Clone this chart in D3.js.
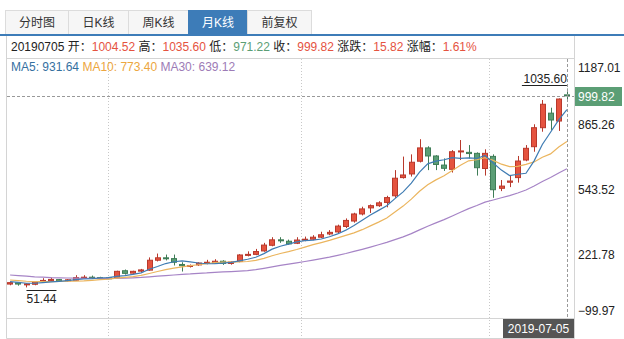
<!DOCTYPE html>
<html>
<head>
<meta charset="utf-8">
<script src="https://cdn.jsdelivr.net/npm/d3@7"></script>
<style>
  body { margin: 0; background: #fff; }
  text { font-family: "Liberation Sans", "Noto Sans CJK SC", sans-serif; font-size: 12px; }
</style>
</head>
<body>
<svg width="624" height="339"></svg>
<script>
// monthly candles, 2013-11 .. 2019-07 (前复权)
const months = d3.timeMonth.range(new Date(2013, 10, 1), new Date(2019, 7, 1));

const opens = [68,74,67,67,80,85,90,84,87,100,102,100,99,100,134,122,132,137,186,198,
  194,165,158,163,172,172,181,170,180,211,215,232,260,287,280,270,286,290,300,316,
  326,353,380,415,445,456,472,505,595,613,676,742,702,657,636,723,720,715,640,700,
  542,572,595,682,748,842,914,875,1004.52];
const highs = [80,77,73,80,97,100,93,92,112,112,110,104,103,134,140,134,143,200,219,214,
  214,176,165,176,188,191,186,180,216,230,242,272,300,300,288,300,303,310,327,335,
  362,393,421,451,462,478,505,632,699,710,785,750,706,690,731,781,756,720,735,710,
  583,608,702,756,859,979,941,987,1035.60];
const lows = [62,60,51.44,62,77,82,80,81,85,96,95,94,92,98,115,119,127,134,180,185,
  160,130,150,158,166,168,163,164,176,205,211,228,255,272,262,266,280,285,296,310,
  320,345,372,408,420,450,448,495,590,600,670,632,632,628,620,682,690,605,605,495,
  528,548,570,676,723,822,831,826,971.22];
const closes = [75,68,69,78,86,91,83,89,100,102,100,99,97,131,121,131,138,186,198,195,
  176,159,160,172,176,181,170,177,212,215,229,261,287,285,267,286,290,300,312,324,
  355,383,415,440,456,470,496,592,608,671,742,702,660,641,723,727,714,644,715,535,
  553,578,677,740,842,958,880,984,999.82];

const ma5 = [80,76,72,72,75.2,78.4,81.4,85.4,89.8,93.0,94.8,98.0,99.6,105.8,109.6,115.8,123.6,141.4,154.8,169.6,
  178.6,182.8,177.6,172.4,168.6,169.6,171.8,175.2,183.2,191.0,200.6,218.8,240.8,255.4,265.8,277.2,283.0,285.6,291.0,302.4,
  316.2,334.8,357.8,383.4,409.8,432.8,455.4,490.8,524.4,567.4,621.8,663.0,676.6,683.2,693.6,690.6,693.0,689.8,704.6,667.0,
  632.2,605.0,611.6,616.6,678.0,759.0,819.4,880.8,931.64];
const ma10 = [88,85,82,80,80,80,81,82,83,84.1,86.6,89.7,92.5,97.8,101.3,105.3,110.8,120.5,130.3,139.6,
  147.2,153.2,159.5,163.6,169.1,174.1,177.3,176.4,177.8,179.8,185.1,195.3,208.0,219.3,228.4,238.9,250.9,263.2,273.2,284.1,
  296.7,308.9,321.7,337.2,356.1,374.5,395.1,424.3,453.9,488.6,527.3,559.2,583.7,603.8,630.5,656.2,678.0,683.2,693.9,680.3,
  661.4,649.0,650.7,660.6,672.5,695.6,712.2,746.2,773.40];
const ma30 = [113,110,107,104,102,100,99,98,97,96,96,96,96,96,97,99,101,104,107,110,
  113,116,118,121,123,126,128,130,132,134.5,139.6,146.1,153.3,160.2,166.3,172.8,179.7,186.7,193.8,201.2,
  209.7,219.1,229.7,240.0,251.2,262.5,274.4,288.0,301.6,317.5,336.4,354.5,371.1,386.8,405.0,423.2,441.3,456.9,473.7,484.3,
  495.1,505.7,518.7,533.9,553.0,575.4,595.1,617.9,639.12];

const yTicks = [1187.01, 865.26, 543.52, 221.78, -99.97];
const tabs = ['分时图', '日K线', '周K线', '月K线', '前复权'];
const activeTab = '月K线';
const gridIdx = [12, 35.5, 58.5];
const hoverDate = '2019-07-05';

const red = '#e5533f', redDark = '#b8392c';
const green = '#5b9e75', greenDark = '#3f7d57';
const blue = '#3d7cb8';
const maColors = {ma5: '#3f7cb3', ma10: '#ebb55e', ma30: '#a684c6'};
const maText = {MA5: '#35709f', MA10: '#eca640', MA30: '#9d7bb6'};

const svg = d3.select('svg');
const pLeft = 6, pRight = 574, pTop = 58, pBottom = 318, dateBottom = 338;

const data = months.map((m, i) => ({
  i, date: m, o: opens[i], h: highs[i], l: lows[i], c: closes[i],
  ma5: ma5[i], ma10: ma10[i], ma30: ma30[i]
}));

const x = d3.scaleBand().domain(d3.range(data.length))
  .range([6, 571]).paddingInner(0.32).paddingOuter(0.16);
const xi = d3.scaleLinear().domain([-0.5, data.length - 0.5]).range([6, 571]);
const cx = i => x(i) + x.bandwidth() / 2;
const y = d3.scaleLinear().domain([-99.97, 1187.01]).range([pBottom, pTop]);

// tabs
const tabX = d3.scaleOrdinal().domain(tabs).range([5, 68, 128, 188, 247]);
const tabW = d3.scaleOrdinal().domain(tabs).range([63, 60, 60, 59, 64]);
const tabG = svg.append('g');
tabG.selectAll('rect').data(tabs).enter().append('rect')
  .attr('x', d => tabX(d) + 0.5).attr('y', 10.5)
  .attr('width', d => tabW(d)).attr('height', 24)
  .attr('fill', d => d === activeTab ? blue : '#f6f6f6')
  .attr('stroke', d => d === activeTab ? blue : '#dcdcdc');
tabG.selectAll('text').data(tabs).enter().append('text')
  .attr('x', d => tabX(d) + tabW(d) / 2 + 0.5).attr('y', 23)
  .attr('text-anchor', 'middle').attr('dominant-baseline', 'central')
  .attr('fill', d => d === activeTab ? '#fff' : '#333')
  .text(d => d);
svg.append('rect').attr('x', 0).attr('y', 34).attr('width', 624).attr('height', 2).attr('fill', blue);

// frame
const frame = svg.append('g').attr('stroke', '#d4d4d4').attr('fill', 'none');
frame.append('path').attr('d', `M${pLeft + 0.5},36V${dateBottom + 0.5}H${pRight + 0.5}V36`);
frame.append('path').attr('d', `M${pLeft},${pTop + 0.5}H${pRight}`);
frame.append('path').attr('d', `M${pLeft},${pBottom + 0.5}H${pRight}`);

// grid
svg.append('g').selectAll('line').data(gridIdx).enter().append('line')
  .attr('x1', d => Math.round(xi(d)) + 0.5).attr('x2', d => Math.round(xi(d)) + 0.5)
  .attr('y1', pTop + 1).attr('y2', dateBottom)
  .attr('stroke', '#c8c8c8').attr('stroke-dasharray', '1,2');

// info row
const last = data[data.length - 1];
const prev = data[data.length - 2];
const f2 = d3.format('.2f');
const chg = last.c - prev.c;
const col = v => v >= prev.c ? red : green;
const infoParts = [
  [hoverDate.replace(/-/g, '') + ' 开：', '#222'], [f2(last.o), col(last.o)],
  [' 高：', '#222'], [f2(last.h), col(last.h)],
  [' 低：', '#222'], [f2(last.l), col(last.l)],
  [' 收：', '#222'], [f2(last.c), col(last.c)],
  [' 涨跌：', '#222'], [f2(chg), chg >= 0 ? red : green],
  [' 涨幅：', '#222'], [f2(chg / prev.c * 100) + '%', chg >= 0 ? red : green]
];
svg.append('text').attr('x', 11).attr('y', 47).attr('dominant-baseline', 'central')
  .attr('xml:space', 'preserve')
  .selectAll('tspan').data(infoParts).enter().append('tspan')
  .attr('fill', d => d[1]).text(d => d[0]);

const maParts = [['MA5', last.ma5], ['MA10', last.ma10], ['MA30', last.ma30]];
svg.append('text').attr('x', 11).attr('y', 67).attr('dominant-baseline', 'central')
  .attr('xml:space', 'preserve')
  .selectAll('tspan').data(maParts).enter().append('tspan')
  .attr('fill', d => maText[d[0]]).text((d, i) => (i ? ' ' : '') + d[0] + ': ' + f2(d[1]));

// candles
const plot = svg.append('g');
const up = d => d.c >= d.o;
const candle = plot.selectAll('g.candle').data(data).enter().append('g').attr('class', 'candle');
candle.append('line')
  .attr('x1', d => Math.round(cx(d.i)) + 0.5).attr('x2', d => Math.round(cx(d.i)) + 0.5)
  .attr('y1', d => y(d.h)).attr('y2', d => y(d.l))
  .attr('stroke', d => up(d) ? redDark : greenDark);
candle.append('rect')
  .attr('x', d => Math.round(cx(d.i) - x.bandwidth() / 2) + 0.5)
  .attr('width', Math.round(x.bandwidth()) - 1)
  .attr('y', d => y(Math.max(d.o, d.c)))
  .attr('height', d => Math.max(1, Math.abs(y(d.o) - y(d.c))))
  .attr('fill', d => up(d) ? red : green)
  .attr('stroke', d => up(d) ? redDark : greenDark);

// moving averages
['ma30', 'ma10', 'ma5'].forEach(k => {
  plot.append('path').datum(data)
    .attr('fill', 'none')
    .attr('stroke', maColors[k])
    .attr('stroke-width', 1.2)
    .attr('d', d3.line().x(d => cx(d.i)).y(d => y(d[k])));
});

// high / low markers
const hi = data[d3.maxIndex(data, d => d.h)];
const lo = data[d3.minIndex(data, d => d.l)];
const hx = cx(hi.i), hy = Math.round(y(hi.h) - 3.5) + 0.5;
svg.append('line').attr('x1', hx - 45).attr('x2', hx).attr('y1', hy).attr('y2', hy).attr('stroke', '#222');
svg.append('text').attr('x', hx).attr('y', hy - 3).attr('text-anchor', 'end').attr('fill', '#222').text(f2(hi.h));
const lx = cx(lo.i), ly = Math.round(y(lo.l) + 2.5) + 0.5;
svg.append('line').attr('x1', lx).attr('x2', lx + 30).attr('y1', ly).attr('y2', ly).attr('stroke', '#222');
svg.append('text').attr('x', lx).attr('y', ly + 12).attr('fill', '#222').text(f2(lo.l));

// crosshair on last candle
const chX = Math.round(cx(last.i)) + 0.5, chY = Math.round(y(last.c)) + 0.5;
svg.append('line').attr('x1', chX).attr('x2', chX).attr('y1', pTop + 1).attr('y2', pBottom)
  .attr('stroke', '#999').attr('stroke-dasharray', '3,2');
svg.append('line').attr('x1', pLeft + 1).attr('x2', pRight).attr('y1', chY).attr('y2', chY)
  .attr('stroke', '#999').attr('stroke-dasharray', '3,2');

// y axis labels
svg.append('g').selectAll('text').data(yTicks).enter().append('text')
  .attr('x', 578)
  .attr('y', d => Math.max(68, Math.min(311, y(d) + 2)))
  .attr('dominant-baseline', 'central').attr('fill', '#222')
  .text(d => f2(d));

// current price tag
svg.append('rect').attr('x', 575).attr('y', chY - 9.5).attr('width', 47).attr('height', 19).attr('fill', green);
svg.append('text').attr('x', 578).attr('y', chY + 0.5).attr('dominant-baseline', 'central')
  .attr('fill', '#fff').text(f2(last.c));

// date tag
svg.append('rect').attr('x', 503).attr('y', 319).attr('width', 71).attr('height', 19).attr('fill', '#555');
svg.append('text').attr('x', 538.5).attr('y', 328.5).attr('text-anchor', 'middle')
  .attr('dominant-baseline', 'central').attr('fill', '#fff').text(hoverDate);
</script>
</body>
</html>
